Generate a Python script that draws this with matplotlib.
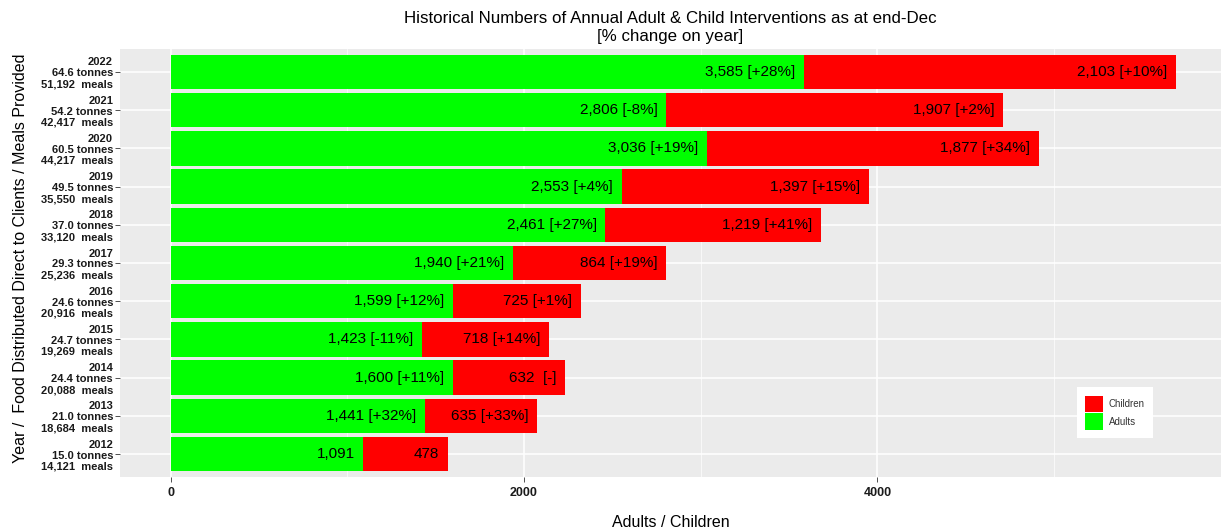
import matplotlib
matplotlib.use("Agg")
import matplotlib.pyplot as plt
from matplotlib.patches import Patch
from matplotlib.ticker import MultipleLocator

plt.rcParams['font.family'] = ['Liberation Sans', 'DejaVu Sans']

# data, oldest year first (bottom of chart)
years = [2012, 2013, 2014, 2015, 2016, 2017, 2018, 2019, 2020, 2021, 2022]
adults = [1091, 1441, 1600, 1423, 1599, 1940, 2461, 2553, 3036, 2806, 3585]
children = [478, 635, 632, 718, 725, 864, 1219, 1397, 1877, 1907, 2103]
adult_change = ['', '[+32%]', '[+11%]', '[-11%]', '[+12%]', '[+21%]', '[+27%]',
                '[+4%]', '[+19%]', '[-8%]', '[+28%]']
child_change = ['', '[+33%]', ' [-]', '[+14%]', '[+1%]', '[+19%]', '[+41%]',
                '[+15%]', '[+34%]', '[+2%]', '[+10%]']
tonnes = [15.0, 21.0, 24.4, 24.7, 24.6, 29.3, 37.0, 49.5, 60.5, 54.2, 64.6]
meals = [14121, 18684, 20088, 19269, 20916, 25236, 33120, 35550, 44217, 42417, 51192]

fig = plt.figure(figsize=(12.23, 5.30), dpi=100)
ax = fig.add_axes([0.0981, 0.1, 0.9003, 0.8075])
ax.set_facecolor('#EBEBEB')

ypos = list(range(len(years)))
ax.barh(ypos, adults, height=0.9, color='#00FF00', label='Adults', zorder=2)
ax.barh(ypos, children, left=adults, height=0.9, color='#FF0000', label='Children', zorder=2)

# value labels at right end of each segment
pad = 50
for i in ypos:
    a_txt = f"{adults[i]:,} {adult_change[i]}".strip()
    c_txt = f"{children[i]:,} {child_change[i]}".strip()
    ax.text(adults[i] - pad, i, a_txt, ha='right', va='center', fontsize=11, zorder=3)
    ax.text(adults[i] + children[i] - pad, i, c_txt, ha='right', va='center', fontsize=11, zorder=3)

ax.set_xlim(-287, 5945)
ax.set_ylim(-0.6, len(years) - 0.4)

ax.xaxis.set_major_locator(MultipleLocator(2000))
ax.xaxis.set_minor_locator(MultipleLocator(1000))
ax.grid(True, which='major', color='white', linewidth=1.1, zorder=0)
ax.grid(True, which='minor', axis='x', color='white', linewidth=0.5, zorder=0)
ax.set_axisbelow(True)

ylabels = [f"{y}\n{t:.1f} tonnes\n{m:,}  meals" for y, t, m in zip(years, tonnes, meals)]
ax.set_yticks(ypos)
ax.set_yticklabels(ylabels, fontsize=8, fontweight='bold', color='#1a1a1a',
                   linespacing=1.12, ha='right')
ax.tick_params(axis='both', which='major', length=3.5, color='#333333', width=0.6)
ax.tick_params(axis='y', pad=1.5)
ax.tick_params(axis='x', which='minor', length=0)
ax.tick_params(axis='x', labelsize=9)
for lbl in ax.get_xticklabels():
    lbl.set_fontweight('bold')
    lbl.set_color('#1a1a1a')

for s in ax.spines.values():
    s.set_visible(False)

ax.set_xlabel('Adults / Children', fontsize=11.5, labelpad=12)
ax.set_ylabel('Year /  Food Distributed Direct to Clients / Meals Provided', fontsize=11.5)
ax.yaxis.set_label_coords(-0.0834, 0.51)
ax.set_title('Historical Numbers of Annual Adult & Child Interventions as at end-Dec\n[% change on year]',
             fontsize=12.2, pad=6)

handles = [Patch(facecolor='#FF0000', label='Children'), Patch(facecolor='#00FF00', label='Adults')]
leg = ax.legend(handles=handles, loc='lower right', bbox_to_anchor=(0.9425, 0.08),
                fontsize=7, frameon=True, fancybox=False, framealpha=1,
                handlelength=1.8, handleheight=2.2, handletextpad=0.6,
                labelspacing=0.15, borderpad=0.85)
leg.get_frame().set_edgecolor('white')
leg.get_frame().set_linewidth(0)
for t in leg.get_texts():
    t.set_color('#333333')

fig.savefig('out.png', dpi=100)
